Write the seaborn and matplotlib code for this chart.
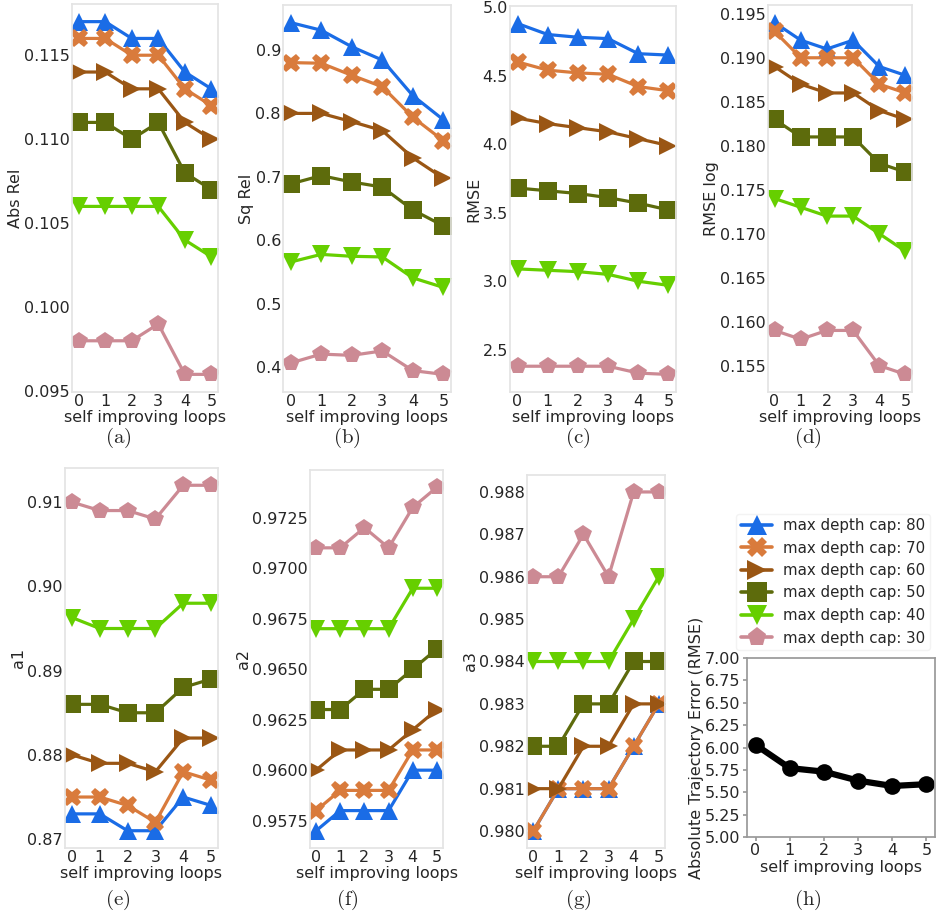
"""Self-improving loops: depth metrics per max depth cap, plus trajectory error."""

import matplotlib
matplotlib.use("Agg")
import matplotlib.pyplot as plt
from matplotlib.lines import Line2D
import pandas as pd
import seaborn as sns

loops = [0, 1, 2, 3, 4, 5]
caps = [80, 70, 60, 50, 40, 30]

abs_rel = [
    [0.117, 0.117, 0.116, 0.116, 0.114, 0.113],
    [0.116, 0.116, 0.115, 0.115, 0.113, 0.112],
    [0.114, 0.114, 0.113, 0.113, 0.111, 0.110],
    [0.111, 0.111, 0.110, 0.111, 0.108, 0.107],
    [0.106, 0.106, 0.106, 0.106, 0.104, 0.103],
    [0.098, 0.098, 0.098, 0.099, 0.096, 0.096],
]
sq_rel = [
    [0.943, 0.931, 0.905, 0.884, 0.828, 0.790],
    [0.880, 0.879, 0.860, 0.842, 0.794, 0.757],
    [0.800, 0.800, 0.787, 0.773, 0.730, 0.698],
    [0.689, 0.702, 0.692, 0.684, 0.648, 0.623],
    [0.566, 0.578, 0.575, 0.574, 0.541, 0.526],
    [0.407, 0.421, 0.419, 0.426, 0.395, 0.389],
]
rmse = [
    [4.88, 4.80, 4.78, 4.77, 4.66, 4.65],
    [4.60, 4.54, 4.52, 4.51, 4.42, 4.39],
    [4.19, 4.15, 4.12, 4.09, 4.04, 3.99],
    [3.68, 3.66, 3.64, 3.61, 3.57, 3.52],
    [3.09, 3.08, 3.07, 3.05, 3.00, 2.97],
    [2.38, 2.38, 2.38, 2.38, 2.33, 2.32],
]
rmse_log = [
    [0.194, 0.192, 0.191, 0.192, 0.189, 0.188],
    [0.193, 0.190, 0.190, 0.190, 0.187, 0.186],
    [0.189, 0.187, 0.186, 0.186, 0.184, 0.183],
    [0.183, 0.181, 0.181, 0.181, 0.178, 0.177],
    [0.174, 0.173, 0.172, 0.172, 0.170, 0.168],
    [0.159, 0.158, 0.159, 0.159, 0.155, 0.154],
]
a1 = [
    [0.873, 0.873, 0.871, 0.871, 0.875, 0.874],
    [0.875, 0.875, 0.874, 0.872, 0.878, 0.877],
    [0.880, 0.879, 0.879, 0.878, 0.882, 0.882],
    [0.886, 0.886, 0.885, 0.885, 0.888, 0.889],
    [0.8963, 0.895, 0.895, 0.895, 0.898, 0.898],
    [0.910, 0.909, 0.909, 0.908, 0.912, 0.912],
]
a2 = [
    [0.957, 0.958, 0.958, 0.958, 0.960, 0.960],
    [0.958, 0.959, 0.959, 0.959, 0.961, 0.961],
    [0.960, 0.961, 0.961, 0.961, 0.962, 0.963],
    [0.963, 0.963, 0.964, 0.964, 0.965, 0.966],
    [0.967, 0.967, 0.967, 0.967, 0.969, 0.969],
    [0.971, 0.971, 0.972, 0.971, 0.973, 0.974],
]
a3 = [
    [0.980, 0.981, 0.981, 0.981, 0.982, 0.983],
    [0.980, 0.981, 0.981, 0.981, 0.982, 0.983],
    [0.981, 0.981, 0.982, 0.982, 0.983, 0.983],
    [0.982, 0.982, 0.983, 0.983, 0.984, 0.984],
    [0.984, 0.984, 0.984, 0.984, 0.985, 0.986],
    [0.986, 0.986, 0.987, 0.986, 0.988, 0.988],
]
ate = [6.03, 5.77, 5.73, 5.63, 5.57, 5.59]

colors = ['#1a6ce6', '#d97b3c', '#9a5614', '#5d6b0c', '#66cf00', '#cc8a94']
markers = ['^', 'X', '>', 's', 'v', 'p']

sns.set_theme(style='whitegrid')
plt.rcParams['font.family'] = ['DejaVu Sans']
plt.rcParams['mathtext.fontset'] = 'cm'
plt.rcParams['axes.formatter.useoffset'] = False

W, H = 943, 917
fig = plt.figure(figsize=(W / 100, H / 100), dpi=100)


def add_ax(x0, x1, y0, y1):
    # pixel edges -> figure fraction
    return fig.add_axes([x0 / W, 1 - y1 / H, (x1 - x0) / W, (y1 - y0) / H])


def style_ax(ax, ylabel):
    ax.grid(False)
    ax.set_xticks(loops)
    ax.set_xlabel('self improving loops', fontsize=11.5, labelpad=1)
    ax.set_ylabel(ylabel, fontsize=11.5, labelpad=1)
    ax.tick_params(labelsize=11.5, length=0, pad=1.5)


labels = [f'max depth cap: {c}' for c in caps]
palette = dict(zip(labels, colors))
marker_map = dict(zip(labels, markers))

panels = [
    (abs_rel, 'Abs Rel', (72, 218, 4, 392)),
    (sq_rel, 'Sq Rel', (283, 451, 5, 392)),
    (rmse, 'RMSE', (510, 676, 6, 392)),
    (rmse_log, 'RMSE log', (768, 912, 5, 392)),
    (a1, 'a1', (65, 218, 468, 848)),
    (a2, 'a2', (310, 443, 470, 848)),
    (a3, 'a3', (527, 665, 475, 848)),
]

for values, name, box in panels:
    rows = []
    for lab, series in zip(labels, values):
        for x, v in zip(loops, series):
            rows.append({'loop': x, 'value': v, 'cap': lab})
    df = pd.DataFrame(rows)
    ax = add_ax(*box)
    sns.lineplot(data=df, x='loop', y='value', hue='cap', style='cap',
                 hue_order=labels, style_order=labels, palette=palette,
                 markers=marker_map, dashes=False, markersize=13,
                 linewidth=2.3, markeredgewidth=0, legend=False, ax=ax)
    style_ax(ax, name)
    for s in ax.spines.values():
        s.set_color('#e4e4e4')

# trajectory error panel
ax = add_ax(747, 935, 658, 837)
sns.lineplot(x=loops, y=ate, color='black', marker='o', markersize=12,
             linewidth=4.5, markeredgewidth=0, ax=ax)
ax.set_ylim(5.0, 7.0)
ax.set_yticks([5.0, 5.25, 5.5, 5.75, 6.0, 6.25, 6.5, 6.75, 7.0])
ax.set_yticklabels(['5.00', '5.25', '5.50', '5.75', '6.00', '6.25', '6.50',
                    '6.75', '7.00'])
style_ax(ax, 'Absolute Trajectory Error (RMSE)')
ax.tick_params(length=3, pad=1.5, color='#999999', left=True, bottom=True)
for s in ax.spines.values():
    s.set_color('#999999')

handles = [Line2D([], [], color=c, marker=m, markersize=14, linewidth=2.6,
                  markeredgewidth=0) for c, m in zip(colors, markers)]
leg = fig.legend(handles, labels, loc='upper right',
                 bbox_to_anchor=(937 / W, 1 - 506 / H), fontsize=10.8,
                 frameon=True, handlelength=2.1, borderpad=0.3,
                 labelspacing=0.5, handletextpad=0.7)
leg.get_frame().set_edgecolor('#f0f0f0')

tags = ['a', 'b', 'c', 'd', 'e', 'f', 'g', 'h']
tag_x = [118, 347, 578, 808]
for i, t in enumerate(tags):
    y = 438 if i < 4 else 900
    fig.text(tag_x[i % 4] / W, 1 - y / H, r'$\mathrm{(' + t + ')}$',
             ha='center', va='center', fontsize=15)

fig.savefig('out.png', dpi=100)
